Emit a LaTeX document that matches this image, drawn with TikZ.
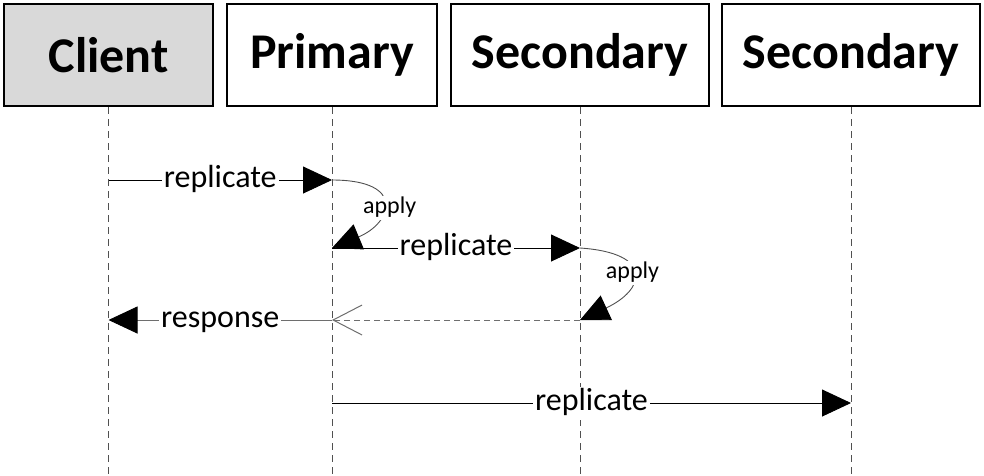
\documentclass[tikz,border=0pt]{standalone}
\usepackage{fontspec}
\setmainfont{Carlito}
\usetikzlibrary{arrows.meta, positioning, calc}
\definecolor{clientgray}{RGB}{217,217,217}
\definecolor{linegray}{RGB}{80,80,80}
\definecolor{replygray}{RGB}{110,110,110}
\tikzset{
  actor/.style    = {draw=black, line width=2.5pt, minimum height=102pt, inner sep=0pt,
                     font=\fontsize{50}{58}\selectfont\bfseries},
  lifeline/.style = {draw=linegray, line width=0.8pt, dash pattern=on 7pt off 5pt},
  msg/.style      = {-{Triangle[length=29pt, width=27pt, color=black]}, line width=0.9pt},
  reply/.style    = {-{Straight Barb[length=29pt, width=30pt]}, line width=1pt,
                     color=replygray, dash pattern=on 6pt off 4pt},
  lbl/.style      = {fill=white, inner sep=2pt, text height=22pt, text depth=7pt,
                     font=\fontsize{32}{36}\selectfont},
  note/.style     = {fill=white, inner sep=1pt, text height=17pt, text depth=5pt,
                     font=\fontsize{24}{28}\selectfont},
}
\begin{document}
\begin{tikzpicture}[x=1pt, y=-1pt]
  \useasboundingbox (0,0) rectangle (984,475);

  \node[actor, fill=clientgray, minimum width=209pt] (client) at (108.5,55) {Client};
  \node[actor, minimum width=210pt] (primary) at (332,55) {Primary};
  \node[actor, minimum width=258pt] (secA) at (580,55) {Secondary};
  \node[actor, minimum width=258pt] (secB) at (851,55) {Secondary};

  % lifelines
  \foreach \n in {client, primary, secA, secB}
    \draw[lifeline] (\n.south) -- (\n.south |- 0,475);

  \coordinate (c1) at (client |- 0,180);
  \coordinate (p1) at (primary |- 0,180);
  \coordinate (p2) at (primary |- 0,248);
  \coordinate (s1) at (secA |- 0,248);
  \coordinate (s2) at (secA |- 0,320);
  \coordinate (p3) at (primary |- 0,320);
  \coordinate (c3) at (client |- 0,320);
  \coordinate (p4) at (primary |- 0,403);
  \coordinate (t4) at (secB |- 0,403);

  \draw[msg] (c1) -- node[lbl]{replicate} (p1);
  \draw[msg, draw=linegray] (p1) .. controls +(75,0) and +(60,-25) .. node[note, xshift=7pt, yshift=-3pt]{apply} (p2);
  \draw[msg] (p2) -- node[lbl]{replicate} (s1);
  \draw[msg, draw=linegray] (s1) .. controls +(75,5) and +(65,-30) .. node[note, yshift=2pt]{apply} (s2);
  \draw[reply] (s2) -- (p3);
  \draw[msg, draw=replygray] (p3) -- node[lbl]{response} (c3);
  \draw[msg] (p4) -- node[lbl]{replicate} (t4);
\end{tikzpicture}
\end{document}
